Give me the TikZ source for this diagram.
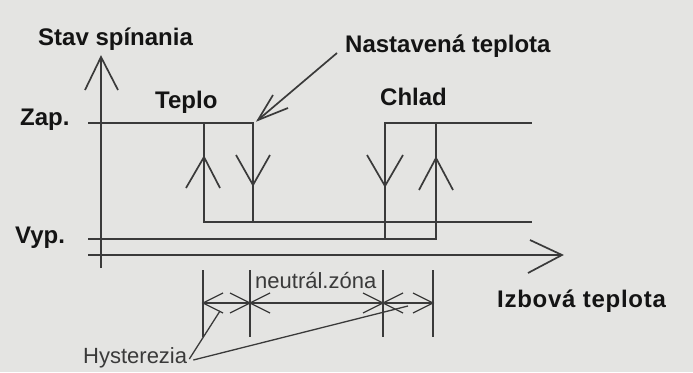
\documentclass[tikz,border=0pt]{standalone}
\usepackage{fontspec}
\setmainfont{Liberation Sans}
\definecolor{paper}{HTML}{E4E4E2}
\definecolor{ink}{HTML}{3A3A3A}
\definecolor{txt}{HTML}{141414}
\definecolor{txtl}{HTML}{3A3A3A}
\begin{document}
\begin{tikzpicture}[x=1pt,y=-1pt,
  ln/.style={draw=ink,line width=1.7pt},
  thin/.style={draw=ink,line width=1.3pt},
  big/.style={anchor=base west,inner sep=0pt,text=txt,font=\bfseries\fontsize{24}{28}\selectfont},
  small/.style={anchor=base west,inner sep=0pt,text=txtl,font=\fontsize{22}{26}\selectfont}]
\fill[paper] (0,0) rectangle (693,372);
\useasboundingbox (0,0) rectangle (693,372);

% labels
\node[big] (stav) at (38,45) {Stav spínania};
\node[big] (nast) at (345,52) {Nastavená teplota};
\node[big] (teplo) at (155,108) {Teplo};
\node[big] (chlad) at (380,105) {Chlad};
\node[big] (zap) at (20,125) {Zap.};
\node[big] (vyp) at (15,243) {Vyp.};
\node[big] (izb) at (497,307) {\addfontfeatures{LetterSpace=3}Izbová teplota};
\node[small] (neut) at (255,288) {neutrál.zóna};
\node[small] (hyst) at (83,363) {Hysterezia};

% axes
\coordinate (yb) at (101,268); \coordinate (yt) at (101,57);
\coordinate (xl) at (88,255);  \coordinate (xr) at (562,255);
\draw[ln] (yb) -- (yt);
\draw[ln] (yt) ++(-16,33) -- (yt) -- ++(17,33);
\draw[ln] (xl) -- (xr);
\draw[ln] (xr) ++(-32,-15) -- (xr) -- ++(-34,18);

% heating loop
\coordinate (h1) at (88,123); \coordinate (h2) at (253,123); \coordinate (h3) at (253,222);
\coordinate (h4) at (204,123); \coordinate (h5) at (204,222); \coordinate (h6) at (532,222);
\draw[ln] (h1) -- (h2) -- (h3);
\draw[ln] (h4) -- (h5) -- (h6);
% cooling loop
\coordinate (c1) at (88,239); \coordinate (c2) at (436,239); \coordinate (c3) at (436,123);
\coordinate (c4) at (385,239); \coordinate (c5) at (385,123); \coordinate (c6) at (532,123);
\draw[ln] (c1) -- (c2) -- (c3);
\draw[ln] (c4) -- (c5) -- (c6);

% step arrows
\coordinate (a1) at (204,157); \coordinate (a2) at (253,185);
\coordinate (a3) at (385,186); \coordinate (a4) at (436,158);
\draw[ln] (a1) ++(-18,31) -- (a1) -- ++(16,31);
\draw[ln] (a2) ++(-17,-30) -- (a2) -- ++(17,-30);
\draw[ln] (a3) ++(-18,-31) -- (a3) -- ++(18,-31);
\draw[ln] (a4) ++(-17,32) -- (a4) -- ++(17,32);

% set-point pointer
\coordinate (p0) at (337,53); \coordinate (p1) at (258,120);
\draw[ln] (p0) -- (p1);
\draw[ln] (p1) ++(15,-25) -- (p1) -- ++(30,-12);

% dimension lines
\foreach \n/\x in {d1/203,d2/250,d3/383,d4/433}{
  \coordinate (\n t) at (\x,270); \coordinate (\n b) at (\x,337);
  \coordinate (\n) at (\x,303);
  \draw[thin] (\n t) -- (\n b);
}
\draw[thin] (d1) -- (d4);
\draw[thin] (d1) ++(20,-10) -- (d1) -- ++(20,10);
\draw[thin] (d2) ++(-20,-10) -- (d2) -- ++(-20,10);
\draw[thin] (d2) ++(20,-10) -- (d2) -- ++(20,10);
\draw[thin] (d3) ++(-20,-10) -- (d3) -- ++(-20,10);
\draw[thin] (d3) ++(20,-10) -- (d3) -- ++(20,10);
\draw[thin] (d4) ++(-20,-10) -- (d4) -- ++(-20,10);

% hysteresis pointers
\coordinate (hy1) at (220,311); \coordinate (hy2) at (408,306);
\draw[thin] (hyst.base east) ++(2,-4) -- (hy1);
\draw[thin] (hyst.base east) ++(6,-3) -- (hy2);
\end{tikzpicture}
\end{document}
